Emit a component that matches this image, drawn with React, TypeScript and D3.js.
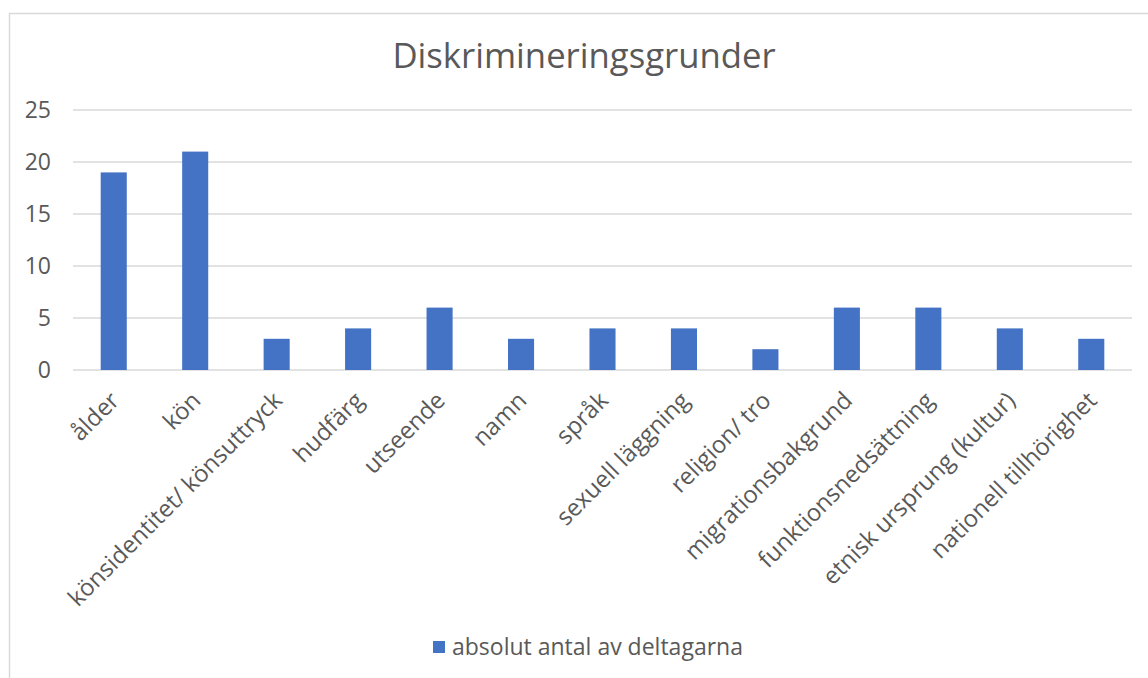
import React from "react";
import * as d3 from "d3";

const categories = [
  "ålder",
  "kön",
  "könsidentitet/ könsuttryck",
  "hudfärg",
  "utseende",
  "namn",
  "språk",
  "sexuell läggning",
  "religion/ tro",
  "migrationsbakgrund",
  "funktionsnedsättning",
  "etnisk ursprung (kultur)",
  "nationell tillhörighet",
];
const values = [19, 21, 3, 4, 6, 3, 4, 4, 2, 6, 6, 4, 3];
const yTicks = [0, 5, 10, 15, 20, 25];
const seriesName = "absolut antal av deltagarna";
const title = "Diskrimineringsgrunder";

const W = 1148;
const H = 678;
const FONT = "'Open Sans', 'Noto Sans', sans-serif";
const TEXT = "#595959";
const GRID = "#d9d9d9";
const BAR = "#4472c4";

export default function App() {
  const x = d3.scaleBand<string>().domain(categories).range([73, 1132]).paddingInner(0.68).paddingOuter(0.34);
  const y = d3.scaleLinear().domain([0, 25]).range([370, 110]);
  return (
    <svg width={W} height={H} style={{ position: "absolute", left: 0, top: 0, background: "#fff" }}>
      <rect x={0} y={0} width={W} height={H} fill="#fff" />
      <path d={`M9.5,${H} V13.5 H${W}`} fill="none" stroke={GRID} strokeWidth={1.5} />
      <text x={584} y={68} textAnchor="middle" fontFamily={FONT} fontSize={34.7} fill={TEXT}>
        {title}
      </text>
      {yTicks.map((t) => (
        <g key={t}>
          <line x1={73} x2={1132} y1={y(t)} y2={y(t)} stroke={GRID} strokeWidth={1.5} />
          <text x={51} y={y(t)} dy="0.36em" textAnchor="end" fontFamily={FONT} fontSize={23} fill={TEXT}>
            {t}
          </text>
        </g>
      ))}
      {categories.map((c, i) => (
        <rect key={c} x={x(c)} y={y(values[i])} width={x.bandwidth()} height={y(0) - y(values[i])} fill={BAR} />
      ))}
      {categories.map((c) => {
        const cx = (x(c) as number) + x.bandwidth() / 2 + 7;
        const cy = 402;
        return (
          <text
            key={c}
            x={cx}
            y={cy}
            textAnchor="end"
            transform={`rotate(-45 ${cx} ${cy})`}
            fontFamily={FONT}
            fontSize={23.8}
            fill={TEXT}
          >
            {c}
          </text>
        );
      })}
      <rect x={433} y={641} width={12} height={12} fill={BAR} />
      <text x={452} y={647} dy="0.35em" fontFamily={FONT} fontSize={23} fill={TEXT}>
        {seriesName}
      </text>
    </svg>
  );
}
